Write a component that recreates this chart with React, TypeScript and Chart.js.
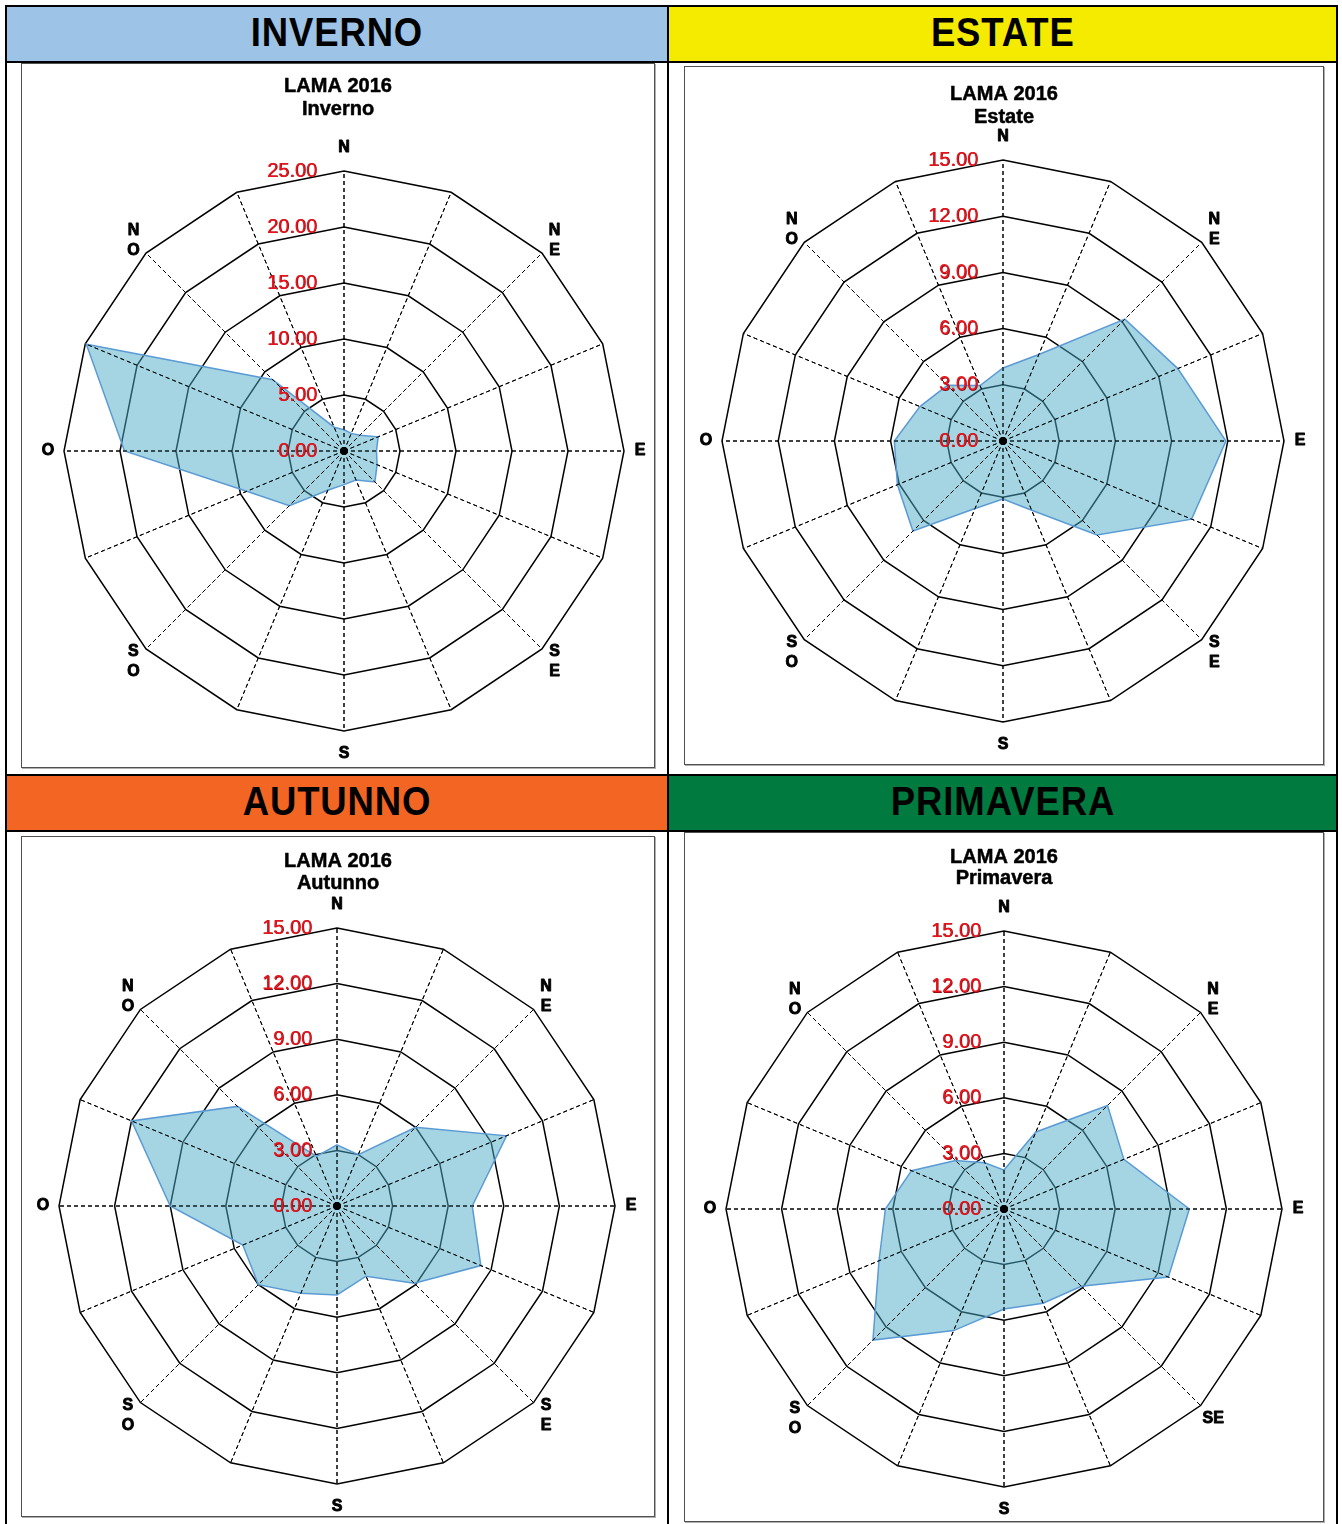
import React, { useEffect, useRef } from 'react';
import { Chart, registerables } from 'chart.js';

Chart.register(...registerables);

// ---------- DATA ----------
const directions = ['N', 'NNE', 'NE', 'ENE', 'E', 'ESE', 'SE', 'SSE', 'S', 'SSO', 'SO', 'OSO', 'O', 'ONO', 'NO', 'NNO'];

const compassLabels: string[][] = [
  ['N'], [], ['N', 'E'], [], ['E'], [], ['S', 'E'], [], ['S'], [], ['S', 'O'], [], ['O'], [], ['N', 'O'], [],
];
const compassLabelsPrimavera: string[][] = [
  ['N'], [], ['N', 'E'], [], ['E'], [], ['SE'], [], ['S'], [], ['S', 'O'], [], ['O'], [], ['N', 'O'], [],
];

const invernoValues = [1.9, 1.7, 2.0, 3.3, 2.9, 3.2, 3.9, 2.8, 3.0, 3.8, 6.9, 9.4, 19.6, 24.9, 9.0, 2.3];
const estateValues = [3.9, 5.0, 9.2, 10.1, 11.9, 10.9, 7.1, 4.0, 3.1, 3.9, 6.8, 6.1, 5.8, 4.8, 4.2, 3.2];
const autunnoValues = [3.3, 3.0, 6.0, 9.9, 7.3, 8.4, 5.9, 4.1, 4.8, 5.1, 6.0, 5.5, 9.0, 12.0, 7.6, 2.9];
const primaveraValues = [2.1, 4.5, 7.9, 7.0, 10.0, 9.6, 5.9, 5.5, 5.4, 7.1, 10.0, 7.3, 6.4, 5.4, 3.7, 2.7];

const invernoTicks = [0, 5, 10, 15, 20, 25];
const seasonTicks = [0, 3, 6, 9, 12, 15];

const chartTitle = 'LAMA 2016';
const seasonHeaders = ['INVERNO', 'ESTATE', 'AUTUNNO', 'PRIMAVERA'];
const seasonSubtitles = ['Inverno', 'Estate', 'Autunno', 'Primavera'];

// ---------- PLUGIN ----------
const overlayPlugin = {
  id: 'overlay',
  afterDatasetsDraw(chart: any, _args: any, opts: any) {
    const scale = chart.scales.r;
    const ctx = chart.ctx as CanvasRenderingContext2D;
    const cx = scale.xCenter;
    const cy = scale.yCenter;
    const n = chart.data.labels.length;
    const outer = scale.getDistanceFromCenterForValue(scale.max);
    ctx.save();
    // dashed axes on top of the area
    ctx.strokeStyle = '#000';
    ctx.lineWidth = 1;
    ctx.setLineDash([4, 3]);
    for (let i = 0; i < n; i++) {
      const p = scale.getPointPosition(i, outer);
      ctx.beginPath();
      ctx.moveTo(cx, cy);
      ctx.lineTo(p.x, p.y);
      ctx.stroke();
    }
    ctx.setLineDash([]);
    // center dot
    ctx.fillStyle = '#000';
    ctx.beginPath();
    ctx.arc(cx, cy, 4, 0, Math.PI * 2);
    ctx.fill();
    // tick labels
    ctx.font = '20px "Liberation Sans", Arial, sans-serif';
    ctx.textAlign = 'right';
    ctx.textBaseline = 'middle';
    (opts.ticks as number[]).forEach((v) => {
      const d = scale.getDistanceFromCenterForValue(v);
      ctx.fillStyle = '#9a0a12';
      ctx.fillText(v.toFixed(2), cx - opts.tickOffset + 0.7, cy - d + 0.7);
      ctx.fillStyle = '#E8141C';
      ctx.fillText(v.toFixed(2), cx - opts.tickOffset, cy - d);
    });
    // point labels
    ctx.font = 'bold 16px "Liberation Sans", Arial, sans-serif';
    ctx.fillStyle = '#000';
    ctx.strokeStyle = '#000';
    ctx.lineWidth = 0.9;
    ctx.lineJoin = 'round';
    ctx.textAlign = 'center';
    (opts.pointLabels as string[][]).forEach((lines, i) => {
      if (!lines.length) return;
      const ang = scale.getIndexAngle(i);
      const c = Math.abs(Math.cos(ang));
      const p = scale.getPointPosition(i, outer + 16 + 7 * c * c * c * c);
      const k = lines.length;
      lines.forEach((t, j) => {
        const y = p.y + (j - (k - 1) / 2) * 20;
        ctx.fillText(t, p.x, y);
        ctx.strokeText(t, p.x, y);
      });
    });
    // title
    ctx.font = 'bold 20px "Liberation Sans", Arial, sans-serif';
    ctx.textAlign = 'center';
    ctx.lineWidth = 0.5;
    const tx = chart.width / 2;
    [0, 1].forEach((k) => {
      ctx.fillText(opts.title[k], tx, opts.titleY[k]);
      ctx.strokeText(opts.title[k], tx, opts.titleY[k]);
    });
    ctx.restore();
  },
};

type Box = { x: number; y: number; w: number; h: number };

function RadarBox(props: {
  values: number[];
  ticks: number[];
  labels: string[][];
  subtitle: string;
  box: Box;
  cx: number;
  cy: number;
  R: number;
  titleY: number[];
  tickOffset: number;
}) {
  const ref = useRef<HTMLCanvasElement | null>(null);
  const { values, ticks, labels, subtitle, box, cx, cy, R, titleY, tickOffset } = props;
  const canvasX = box.x + 1;
  const canvasY = box.y + 1;
  const cw = box.w - 2;
  const ch = box.h - 2;

  useEffect(() => {
    if (!ref.current) return;
    const padding = {
      left: cx - R - canvasX,
      top: cy - R - canvasY,
      right: canvasX + cw - (cx + R),
      bottom: canvasY + ch - (cy + R),
    };
    const chart = new Chart(ref.current, {
      type: 'radar',
      data: {
        labels: directions,
        datasets: [
          {
            data: values,
            backgroundColor: 'rgba(75,172,198,0.5)',
            borderColor: '#5B9BD5',
            borderWidth: 1.5,
            pointRadius: 0,
            pointHoverRadius: 0,
            fill: true,
            tension: 0,
          },
        ],
      },
      options: {
        responsive: false,
        animation: false,
        events: [],
        layout: { padding },
        plugins: {
          legend: { display: false },
          tooltip: { enabled: false },
          title: { display: false },
          overlay: { ticks, pointLabels: labels, title: [chartTitle, subtitle], titleY, tickOffset },
        } as any,
        scales: {
          r: {
            min: ticks[0],
            max: ticks[ticks.length - 1],
            ticks: { stepSize: ticks[1] - ticks[0], display: false },
            pointLabels: { display: false },
            grid: { color: '#000', lineWidth: 1.5 },
            angleLines: { color: '#000', lineWidth: 1, borderDash: [4, 3] },
          },
        },
      } as any,
      plugins: [overlayPlugin],
    });
    return () => chart.destroy();
  }, []);

  return (
    <>
      <div
        style={{
          position: 'absolute',
          left: box.x,
          top: box.y,
          width: box.w,
          height: box.h,
          boxSizing: 'border-box',
          border: '1px solid #505050',
          boxShadow: '1px 1px 0 #b0b0b0',
          background: '#fff',
        }}
      />
      <canvas
        ref={ref}
        width={cw}
        height={ch}
        style={{ position: 'absolute', left: canvasX, top: canvasY, width: cw, height: ch, display: 'block' }}
      />
    </>
  );
}

function Rect(p: { x: number; y: number; w: number; h: number; c: string }) {
  return <div style={{ position: 'absolute', left: p.x, top: p.y, width: p.w, height: p.h, background: p.c }} />;
}

function Header(p: { x: number; y: number; w: number; h: number; c: string; text: string }) {
  return (
    <div
      style={{
        position: 'absolute',
        left: p.x,
        top: p.y,
        width: p.w,
        height: p.h,
        background: p.c,
        display: 'flex',
        alignItems: 'center',
        justifyContent: 'center',
        fontFamily: '"Liberation Sans", Arial, sans-serif',
        fontWeight: 'bold',
        fontSize: 41,
        letterSpacing: 1,
        color: '#000',
        lineHeight: 1,
      }}
    >
      <span style={{ position: 'relative', top: -2, display: 'inline-block', transform: 'scaleX(0.89)' }}>{p.text}</span>
    </div>
  );
}

export default function App() {
  return (
    <div style={{ position: 'absolute', left: 0, top: 0, width: 1342, height: 1524, overflow: 'hidden', background: '#fff' }}>
      <Header x={7} y={7} w={660} h={54} c="#9DC3E6" text={seasonHeaders[0]} />
      <Header x={669} y={7} w={667} h={54} c="#F5EB00" text={seasonHeaders[1]} />
      <Header x={7} y={776} w={660} h={54} c="#F26522" text={seasonHeaders[2]} />
      <Header x={669} y={776} w={667} h={54} c="#007A3F" text={seasonHeaders[3]} />

      {/* table lines */}
      <Rect x={5} y={5} w={1333} h={2} c="#000" />
      <Rect x={5} y={5} w={2} h={1519} c="#000" />
      <Rect x={1336} y={5} w={2} h={1519} c="#000" />
      <Rect x={667} y={5} w={2} h={1519} c="#000" />
      <Rect x={5} y={61} w={1333} h={2} c="#000" />
      <Rect x={5} y={774} w={1333} h={2} c="#000" />
      <Rect x={5} y={830} w={1333} h={2} c="#000" />

      <RadarBox
        values={invernoValues}
        ticks={invernoTicks}
        labels={compassLabels}
        subtitle={seasonSubtitles[0]}
        box={{ x: 21, y: 63, w: 634, h: 705 }}
        cx={344}
        cy={451}
        R={280}
        titleY={[22, 45]}
        tickOffset={27}
      />
      <RadarBox
        values={estateValues}
        ticks={seasonTicks}
        labels={compassLabels}
        subtitle={seasonSubtitles[1]}
        box={{ x: 684, y: 66, w: 640, h: 699 }}
        cx={1003}
        cy={441}
        R={281}
        titleY={[27, 50]}
        tickOffset={25}
      />
      <RadarBox
        values={autunnoValues}
        ticks={seasonTicks}
        labels={compassLabels}
        subtitle={seasonSubtitles[2]}
        box={{ x: 21, y: 836, w: 634, h: 681 }}
        cx={337}
        cy={1206}
        R={278}
        titleY={[24, 46]}
        tickOffset={25}
      />
      <RadarBox
        values={primaveraValues}
        ticks={seasonTicks}
        labels={compassLabelsPrimavera}
        subtitle={seasonSubtitles[3]}
        box={{ x: 684, y: 832, w: 640, h: 690 }}
        cx={1004}
        cy={1209}
        R={278}
        titleY={[24, 45]}
        tickOffset={23}
      />
    </div>
  );
}
